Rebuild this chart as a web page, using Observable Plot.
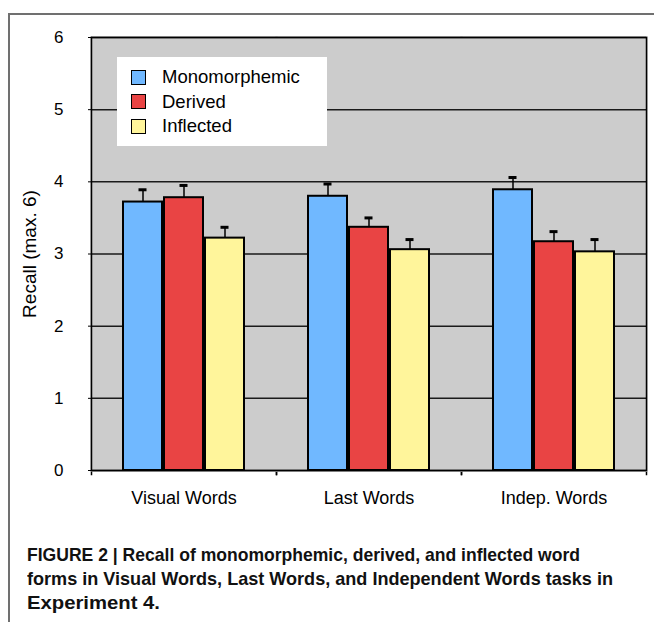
<!DOCTYPE html>
<html><head><meta charset="utf-8">
<script src="https://cdn.jsdelivr.net/npm/d3@7"></script>
<script src="https://cdn.jsdelivr.net/npm/@observablehq/plot@0.6"></script>
<style>
body{margin:0;background:#fff;font-family:"Liberation Sans",Arial,sans-serif;}
#wrap{position:relative;width:654px;height:622px;overflow:hidden;}
#border{position:absolute;left:8px;top:13px;right:0;bottom:-10px;border-top:2px solid #707070;border-left:2px solid #707070;}
#chart{position:absolute;left:0;top:0;}
#legend{position:absolute;left:117px;top:57px;width:210px;height:89px;background:#fff;}
.row{position:absolute;left:14px;height:16px;display:flex;align-items:center;font-size:18.5px;color:#000;white-space:nowrap;}
.sw{width:13px;height:13px;border:1.5px solid #000;margin-right:16px;flex:none;}
#caption{position:absolute;left:27px;top:543px;font-family:"Liberation Sans",Arial,sans-serif;font-weight:bold;font-size:19px;line-height:24px;color:#111;white-space:nowrap;}
#caption span{display:inline-block;transform-origin:0 50%;}
</style>
</head><body>
<div id="wrap">
  <div id="border"></div>
  <div id="chart"></div>
  <div id="legend"></div>
  <div id="caption"><span data-w="553">FIGURE 2 | Recall of monomorphemic, derived, and inflected word</span><br><span data-w="586">forms in Visual Words, Last Words, and Independent Words tasks in</span><br><span data-w="133">Experiment 4.</span></div>
</div>
<script>
const groups = ["Visual Words", "Last Words", "Indep. Words"];
const series = ["Monomorphemic", "Derived", "Inflected"];
const monomorphemic = [3.72, 3.80, 3.89];
const derived = [3.78, 3.37, 3.17];
const inflected = [3.22, 3.06, 3.03];
const monomorphemicErr = [0.17, 0.17, 0.17];
const derivedErr = [0.17, 0.13, 0.14];
const inflectedErr = [0.15, 0.14, 0.17];
const colors = ["#70b8ff", "#e94444", "#fff59b"];
const yTicks = [0, 1, 2, 3, 4, 5, 6];

const values = [monomorphemic, derived, inflected];
const errs = [monomorphemicErr, derivedErr, inflectedErr];
const rows = [];
groups.forEach((g, i) => series.forEach((s, j) => rows.push({group: g, series: s, value: values[j][i], err: errs[j][i]})));

const chart = Plot.plot({
  width: 654, height: 520,
  marginTop: 37, marginBottom: 50, marginLeft: 90, marginRight: 8,
  style: {fontFamily: "Liberation Sans, Arial, sans-serif", background: "transparent", color: "#000"},
  fx: {domain: groups, padding: 0, label: null, axis: null},
  x: {domain: series, paddingInner: 0.04, paddingOuter: 0.75, axis: null},
  y: {domain: [0, 6], axis: null},
  color: {domain: series, range: colors},
  marks: [
    Plot.frame({anchor: "left", stroke: "#000", strokeWidth: 1.5, insetBottom: -4}),
    Plot.frame({anchor: "right", stroke: "#000", strokeWidth: 1.5, insetBottom: -4}),
    Plot.frame({fill: "#cccccc", stroke: "#cccccc", strokeWidth: 2.5}),
    Plot.gridY(yTicks, {stroke: "#1a1a1a", strokeOpacity: 1, strokeWidth: 1.5}),
    Plot.barY(rows, {fx: "group", x: "series", y: "value", fill: "series", stroke: "#000", strokeWidth: 2}),
    Plot.ruleX(rows, {fx: "group", x: "series", y1: "value", y2: d => d.value + d.err, stroke: "#000", strokeWidth: 1.5}),
    Plot.tickY(rows, {fx: "group", x: "series", y: d => d.value + d.err, stroke: "#000", strokeWidth: 3, inset: 15.5}),
    Plot.frame({facet: "super", stroke: "#000", strokeWidth: 1.5}),
    Plot.axisY(yTicks, {anchor: "left", tickSize: 3, tickPadding: 25, fontSize: 17, tickFormat: d => String(d), label: null}),
    Plot.axisY([], {anchor: "left", tickSize: 0, fontSize: 19, label: "Recall (max. 6)", labelAnchor: "center", labelArrow: "none", labelOffset: 69}),
    Plot.axisFx({anchor: "bottom", tickSize: 0, tickPadding: 21, fontSize: 18, label: null})
  ]
});
document.getElementById("chart").appendChild(chart);

const legend = document.getElementById("legend");
series.forEach((s, j) => {
  const row = document.createElement("div");
  row.className = "row";
  row.style.top = (12 + j * 24.5) + "px";
  const sw = document.createElement("div");
  sw.className = "sw";
  sw.style.background = colors[j];
  row.appendChild(sw);
  row.appendChild(document.createTextNode(s));
  legend.appendChild(row);
});

// condense each caption line to the reference's line width
document.querySelectorAll("#caption span").forEach(sp => {
  const w = sp.getBoundingClientRect().width;
  sp.style.transform = `scaleX(${(+sp.dataset.w) / w})`;
});
</script>
</body></html>
